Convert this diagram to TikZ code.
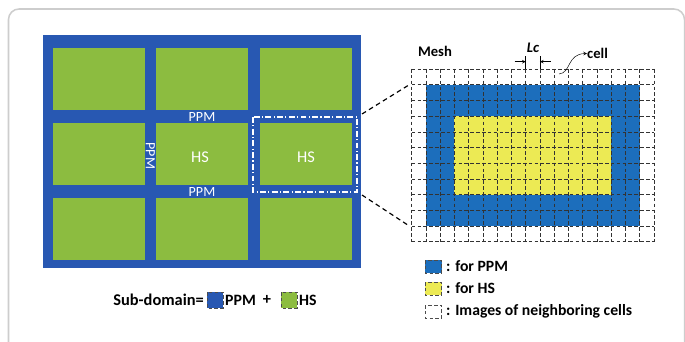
\documentclass[tikz,border=0pt]{standalone}
\usepackage{fontspec}
\setmainfont{Carlito}
\definecolor{ppmazul}{RGB}{40,88,178}
\definecolor{hsverde}{RGB}{140,188,64}
\definecolor{celazul}{RGB}{28,110,188}
\definecolor{celamar}{RGB}{236,234,84}
\definecolor{marcogris}{RGB}{205,205,205}
\begin{document}
\begin{tikzpicture}[x=0.03cm,y=-0.03cm,
  etiqueta/.style={text=white,font=\fontsize{12}{14}\selectfont,inner sep=0pt},
  leyenda/.style={font=\bfseries\fontsize{12.5}{15}\selectfont,inner sep=0pt},
  muestra/.style={draw=black!70,densely dashed,line width=0.4pt},
  rejilla/.style={black!80,densely dashed,line width=0.5pt},
  conector/.style={dashed,line width=1pt,dash pattern=on 4pt off 3pt}]
  \clip (0,0) rectangle (685,341);
  \fill[white] (0,0) rectangle (685,341);
  % Marco
  \draw[marcogris,line width=1.3pt,rounded corners=9] (8.5,9) rectangle (684.5,360);

  % Dominio con subdominios
  \fill[ppmazul] (43,35) rectangle (361,268);
  \foreach \x in {53,156,260}
    \foreach \y in {48,123,198}
      \fill[hsverde] (\x,\y) rectangle ++(92,62);
  \draw[white,line width=1pt,dash pattern=on 5pt off 2pt on 1pt off 2pt] (253,117) rectangle (357,192);
  \node[etiqueta] (ppm1) at (202,116.5) {PPM};
  \node[etiqueta] (ppm2) at (202,192) {PPM};
  \node[etiqueta,rotate=-90] (ppm3) at (150.5,156) {PPM};
  \node[etiqueta,font=\fontsize{14}{16}\selectfont] (hs1) at (200,157) {HS};
  \node[etiqueta,font=\fontsize{14}{16}\selectfont] (hs2) at (306,157) {HS};

  % Malla de celdas
  \begin{scope}[shift={(411.7,69)},x=0.4275cm,y=-0.471cm]
    \fill[celazul] (1,1) rectangle (16,10);
    \fill[celamar] (3,3) rectangle (14,8);
    \foreach \i in {0,...,17}
      \draw[rejilla] (\i,0) -- (\i,11);
    \foreach \j in {0,...,11}
      \draw[rejilla] (0,\j) -- (17,\j);
    \coordinate (malla-a) at (0,1);
    \coordinate (malla-b) at (0,10);
    \coordinate (lc-izq) at (8,0);
    \coordinate (lc-der) at (9,0);
  \end{scope}
  \coordinate (sel-a) at (362,114);
  \coordinate (sel-b) at (362,195);
  \draw[conector] (sel-a) -- ([xshift=-2pt]malla-a);
  \draw[conector] (sel-b) -- ([xshift=-2pt]malla-b);

  % Cotas y textos de la malla
  \node[leyenda] (mesh) at (435,51.7) {Mesh};
  \draw (lc-izq) -- ++(0,-12.5);
  \draw (lc-der) -- ++(0,-12.5);
  \draw[-stealth] ([shift={(-11,-7.3)}]lc-izq) -- ([shift={(0,-7.3)}]lc-izq);
  \draw[-stealth] ([shift={(11,-7.3)}]lc-der) -- ([shift={(0,-7.3)}]lc-der);
  \node[leyenda] (lc) at (533,48) {\textit{Lc}};
  \node[leyenda,anchor=west] (cell) at (587,53.5) {cell};
  \draw[-stealth] (559,74) .. controls (571,73) and (567,54) .. (cell.west);

  % Leyenda inferior
  \node[leyenda,font=\bfseries\fontsize{14}{16}\selectfont,anchor=east] (subdom) at (204,300) {Sub-domain=};
  \draw[muestra,fill=ppmazul] (207,292) rectangle (223,308);
  \node[leyenda,font=\bfseries\fontsize{13.5}{16}\selectfont,anchor=west] (lppm) at (225,300) {PPM};
  \node[leyenda,font=\bfseries\fontsize{14}{16}\selectfont] (mas) at (267,300) {+};
  \draw[muestra,fill=hsverde] (281,292) rectangle (297,308);
  \node[leyenda,font=\bfseries\fontsize{13.5}{16}\selectfont,anchor=west] (lhs) at (299,300) {HS};

  % Leyenda de la malla
  \draw[muestra,fill=celazul] (425,260) rectangle (441.7,273);
  \draw[muestra,fill=celamar] (425,282) rectangle (441.7,295);
  \draw[muestra,fill=white] (425,305) rectangle (441.7,318);
  \node[leyenda,font=\bfseries\fontsize{13.4}{16}\selectfont,anchor=west] (lg1) at (446,266.5) {: for PPM};
  \node[leyenda,font=\bfseries\fontsize{13.4}{16}\selectfont,anchor=west] (lg2) at (446,288.5) {: for HS};
  \node[leyenda,font=\bfseries\fontsize{13.4}{16}\selectfont,anchor=west] (lg3) at (446,311.5) {: Images of neighboring cells};
\end{tikzpicture}
\end{document}
